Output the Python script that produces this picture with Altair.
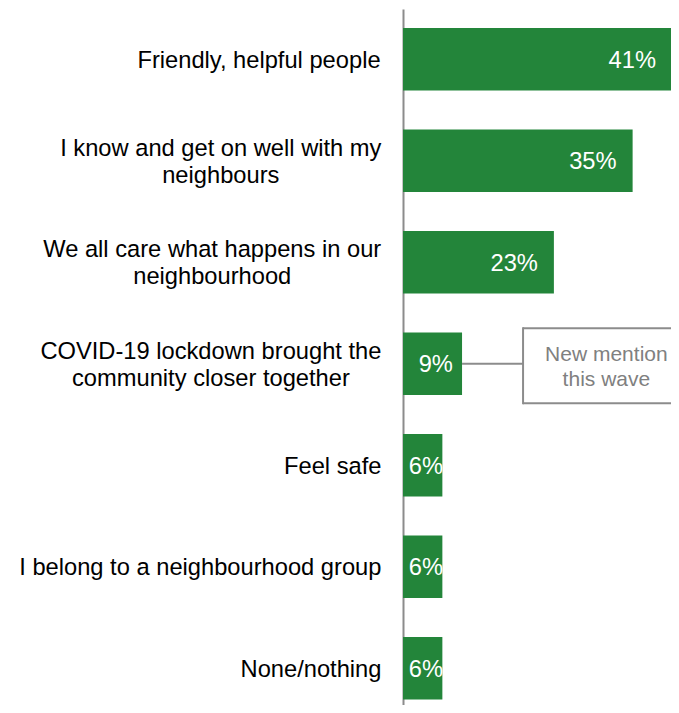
import altair as alt
import pandas as pd

# ---------------- data ----------------
categories = [
    "Friendly, helpful people",
    "I know and get on well with my neighbours",
    "We all care what happens in our neighbourhood",
    "COVID-19 lockdown brought the community closer together",
    "Feel safe",
    "I belong to a neighbourhood group",
    "None/nothing",
]
label_lines = [
    ["Friendly, helpful people"],
    ["I know and get on well with my", "neighbours"],
    ["We all care what happens in our", "neighbourhood"],
    ["COVID-19 lockdown brought the", "community closer together"],
    ["Feel safe"],
    ["I belong to a neighbourhood group"],
    ["None/nothing"],
]
values = [41, 35, 23, 9, 6, 6, 6]
value_labels = ["41%", "35%", "23%", "9%", "6%", "6%", "6%"]

note_category = categories[3]
note_lines = ["New mention", "this wave"]

# ---------------- style ----------------
GREEN = "#23853A"
GREY = "#8C8C8C"
FONT = "Liberation Sans"
FS = 23.7
LH = 27.4
PLOT_W = 268
X_MAX = 40.85
LABEL_GAP = 21.5
BOX_X = 18.3
BOX_H = 75
BOX_SHIFT = 2

# Arial / Liberation Sans advance widths (per 1000 em)
AW = {" ": 278, ",": 278, "-": 333, "%": 889, "/": 278}
AW.update({d: 556 for d in "0123456789"})
AW.update(dict(zip("ABCDEFGHIJKLMNOPQRSTUVWXYZ",
                   [667, 667, 722, 722, 667, 611, 778, 722, 278, 500, 667, 556, 833,
                    722, 778, 667, 778, 722, 667, 611, 722, 667, 944, 667, 667, 611])))
AW.update(dict(zip("abcdefghijklmnopqrstuvwxyz",
                   [556, 556, 500, 556, 556, 278, 556, 556, 222, 222, 500, 222, 833,
                    556, 556, 556, 556, 333, 500, 278, 556, 500, 722, 500, 500, 500])))


def text_width(s, size):
    return sum(AW.get(c, 556) for c in s) * size / 1000.0


df = pd.DataFrame({"category": categories, "value": values, "vlabel": value_labels})

lab = pd.DataFrame({
    "category": categories,
    "text": ["\n".join(l) for l in label_lines],
    "nlines": [len(l) for l in label_lines],
    "lx": [-LABEL_GAP - max(text_width(s, FS) for s in l) / 2 for l in label_lines],
})

note = pd.DataFrame({
    "category": [note_category],
    "start": [values[3]],
    "box_x": [BOX_X],
    "box_x2": [X_MAX + 2],
    "text_x": [31.0],
    "text": ["\n".join(note_lines)],
})

xscale = alt.Scale(domain=[0, X_MAX], nice=False, zero=True)
yenc = alt.Y(
    "category:N",
    sort=categories,
    scale=alt.Scale(range=[0, 709.5], paddingInner=0.3842, paddingOuter=0.1872),
    axis=alt.Axis(labels=False, ticks=False, title=None, domain=True,
                  domainColor=GREY, domainWidth=2, grid=False),
)

bars = alt.Chart(df).mark_bar(color=GREEN).encode(
    x=alt.X("value:Q", scale=xscale, axis=None),
    y=yenc,
)

big_labels = alt.Chart(df).transform_filter("datum.value >= 20").mark_text(
    align="right", baseline="middle", dx=-16, dy=1.5, color="white", font=FONT, fontSize=FS
).encode(
    x=alt.X("value:Q", scale=xscale, axis=None),
    y=yenc,
    text="vlabel:N",
)

small_labels = alt.Chart(df).transform_filter("datum.value < 20").transform_calculate(
    pos="datum.value / 2 + 0.5"
).mark_text(
    align="center", baseline="middle", dy=1.5, color="white", font=FONT, fontSize=FS
).encode(
    x=alt.X("pos:Q", scale=xscale, axis=None),
    y=yenc,
    text="vlabel:N",
)

connector = alt.Chart(note).mark_rule(color=GREY, strokeWidth=2).encode(
    x=alt.X("start:Q", scale=xscale, axis=None),
    x2="box_x:Q",
    y=yenc,
)

# open-right annotation box: top edge, bottom edge, left edge
box_top = alt.Chart(note).mark_rule(
    color=GREY, strokeWidth=2, yOffset=-BOX_H / 2 + BOX_SHIFT
).encode(
    x=alt.X("box_x:Q", scale=xscale, axis=None),
    x2="box_x2:Q",
    y=yenc,
)
box_bottom = alt.Chart(note).mark_rule(
    color=GREY, strokeWidth=2, yOffset=BOX_H / 2 + BOX_SHIFT
).encode(
    x=alt.X("box_x:Q", scale=xscale, axis=None),
    x2="box_x2:Q",
    y=yenc,
)
box_left = alt.Chart(note).mark_tick(
    color=GREY, orient="vertical", size=BOX_H + 2, thickness=2, opacity=1,
    yOffset=BOX_SHIFT
).encode(
    x=alt.X("box_x:Q", scale=xscale, axis=None),
    y=yenc,
)

box_text = alt.Chart(note).mark_text(
    align="center", baseline="middle", color="#808080", font=FONT, fontSize=21,
    lineBreak="\n", lineHeight=25.7, dy=-9
).encode(
    x=alt.X("text_x:Q", scale=xscale, axis=None),
    y=yenc,
    text="text:N",
)

main = alt.layer(bars, big_labels, small_labels, connector,
                 box_top, box_bottom, box_left, box_text)

single_labels = alt.Chart(lab).transform_filter("datum.nlines == 1").mark_text(
    align="center", baseline="middle", color="black", font=FONT, fontSize=FS, dy=1.5
).encode(
    x=alt.X("lx:Q", scale=None, axis=None),
    y=yenc,
    text="text:N",
)

multi_labels = alt.Chart(lab).transform_filter("datum.nlines > 1").mark_text(
    align="center", baseline="middle", color="black", font=FONT, fontSize=FS,
    lineBreak="\n", lineHeight=LH, dy=-LH / 2 + 1.5
).encode(
    x=alt.X("lx:Q", scale=None, axis=None),
    y=yenc,
    text="text:N",
)

chart = alt.layer(main, single_labels, multi_labels).resolve_scale(x="independent").properties(
    width=PLOT_W,
    height=696,
    autosize=alt.AutoSizeParams(type="none"),
    padding={"left": 395, "top": 1, "right": 0, "bottom": 0},
    background="white",
).configure_view(stroke=None)

chart.save("out.html", embed_options={"renderer": "svg", "actions": False})
